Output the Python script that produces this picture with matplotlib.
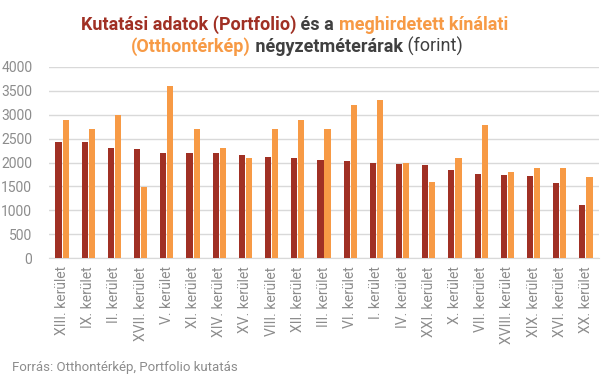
import numpy as np
import matplotlib
matplotlib.use("Agg")
import matplotlib.pyplot as plt

# kerületek és négyzetméterárak (forint)
keruletek = ["XIII.", "IX.", "II.", "XVII.", "V.", "XI.", "XIV.", "XV.", "VIII.", "XII.", "III.",
             "VI.", "I.", "IV.", "XXI.", "X.", "VII.", "XVIII.", "XIX.", "XVI.", "XX."]
portfolio = [2430, 2430, 2300, 2290, 2200, 2200, 2200, 2160, 2120, 2100, 2060,
             2030, 1990, 1970, 1950, 1850, 1760, 1740, 1720, 1570, 1110]
otthonterkep = [2900, 2700, 3000, 1490, 3610, 2700, 2300, 2100, 2700, 2900, 2700,
                3210, 3300, 1990, 1600, 2100, 2790, 1800, 1890, 1890, 1700]
yticks = [0, 500, 1000, 1500, 2000, 2500, 3000, 3500, 4000]

SOTET = "#A03024"
NARANCS = "#F79A45"
SZURKE = "#8C8C8C"
CIM_SZURKE = "#404040"

plt.rcParams['font.family'] = ['Roboto', 'DejaVu Sans']

fig = plt.figure(figsize=(6.05, 3.79), dpi=100)
ax = fig.add_axes([49 / 605, 121 / 379, 550 / 605, 191 / 379])

x = np.arange(len(keruletek))
w = 0.235
ax.bar(x - 0.135, portfolio, w, color=SOTET, zorder=3)
ax.bar(x + 0.135, otthonterkep, w, color=NARANCS, zorder=3)

ax.set_xlim(-0.5, len(keruletek) - 0.5)
ax.set_ylim(0, 4000)
ax.set_yticks(yticks)
ax.set_yticklabels([str(t) for t in yticks], fontsize=10, color=SZURKE)
ax.set_xticks(x)
ax.set_xticklabels([k + " kerület" for k in keruletek], rotation=90, fontsize=10,
                   color=SZURKE, va="top")
ax.tick_params(length=0, pad=6)
ax.tick_params(axis="y", pad=12)
ax.grid(axis="y", color="#D9D9D9", lw=1, zorder=0)
for s in ["top", "right", "left"]:
    ax.spines[s].set_visible(False)
ax.spines["bottom"].set_color("#D9D9D9")

# kétszínű cím, darabonként kirakva
sorok = [
    [("Kutatási adatok (Portfolio)", SOTET, "bold"), (" és a ", CIM_SZURKE, "bold"),
     ("meghirdetett kínálati", NARANCS, "bold")],
    [("(Otthontérkép)", NARANCS, "bold"), (" négyzetméterárak", CIM_SZURKE, "bold"),
     (" (forint)", CIM_SZURKE, "normal")],
]
kezdet = [81, 131]
alapvonal = [30, 52]
renderer = fig.canvas.get_renderer()
for i, sor in enumerate(sorok):
    x0 = kezdet[i]
    for szoveg, szin, vastag in sor:
        t = fig.text(x0 / 605, 1 - alapvonal[i] / 379, szoveg, color=szin, fontweight=vastag,
                     fontsize=13, va="baseline", ha="left")
        x0 += t.get_window_extent(renderer).width

fig.text(12 / 605, 1 - 368 / 379, "Forrás: Otthontérkép, Portfolio kutatás", fontsize=9.5,
         color=SZURKE, va="center")

fig.savefig("out.png", dpi=100)
